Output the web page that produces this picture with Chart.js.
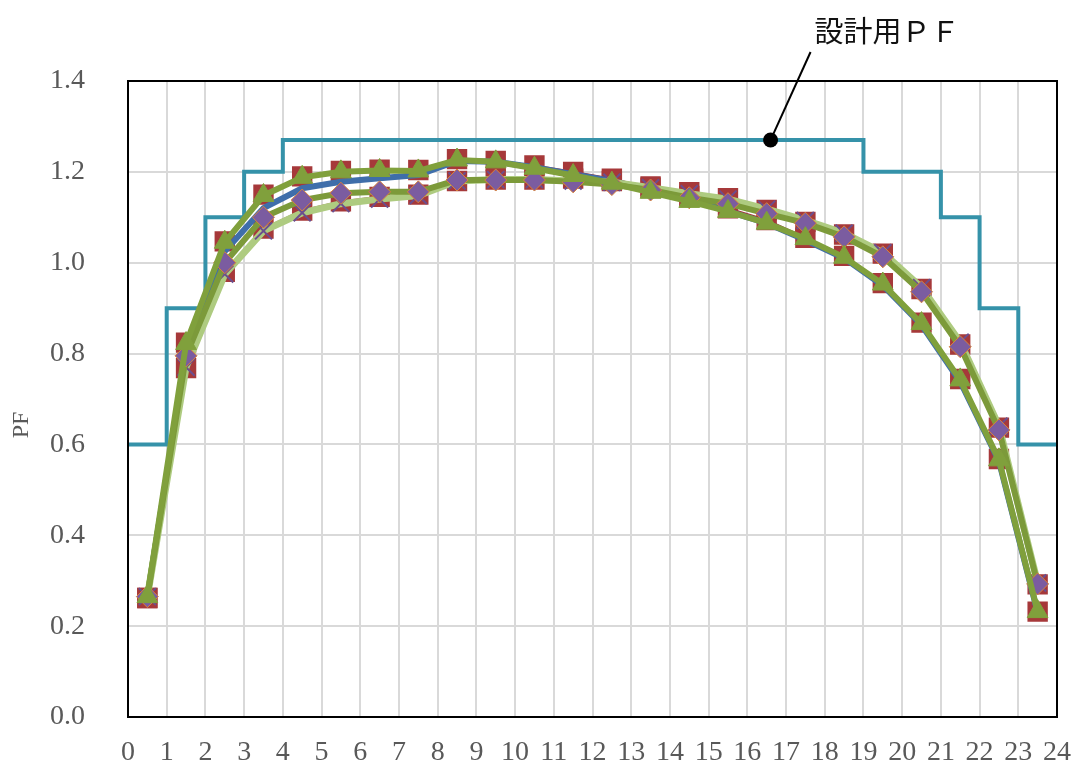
<!DOCTYPE html>
<html><head><meta charset="utf-8">
<script src="https://cdn.jsdelivr.net/npm/chart.js@4/dist/chart.umd.min.js"></script>
<style>html,body{margin:0;padding:0;background:#fff}#wrap{width:1079px;height:767px;position:relative}</style>
</head><body><div id="wrap"><canvas id="c" width="1079" height="767"></canvas></div>
<script>
const hours = [0.5,1.5,2.5,3.5,4.5,5.5,6.5,7.5,8.5,9.5,10.5,11.5,12.5,13.5,14.5,15.5,16.5,17.5,18.5,19.5,20.5,21.5,22.5,23.5];
const xTickLabels = ['0','1','2','3','4','5','6','7','8','9','10','11','12','13','14','15','16','17','18','19','20','21','22','23','24'];
const yTickLabels = ['0.0','0.2','0.4','0.6','0.8','1.0','1.2','1.4'];
const yAxisTitle = 'PF';
const designLabel = '設計用ＰＦ';
const designHours = [0,1,2,3,4,19,21,22,23,24];
const designPF = [0.6,0.9,1.1,1.2,1.27,1.2,1.1,0.9,0.6,0.6];
const designLabelHour = 16.6;

const seriesBlue = [0.265,0.800,1.025,1.120,1.164,1.178,1.186,1.193,1.224,1.222,1.210,1.195,1.180,1.160,1.140,1.113,1.087,1.050,1.010,0.950,0.863,0.738,0.563,0.230];
const seriesRedUpper = [0.262,0.824,1.047,1.150,1.190,1.202,1.205,1.204,1.228,1.224,1.214,1.200,1.185,1.165,1.147,1.120,1.094,1.055,1.015,0.955,0.868,0.744,0.568,0.232];
const seriesGreen = [0.265,0.822,1.045,1.148,1.188,1.200,1.203,1.202,1.226,1.222,1.208,1.192,1.175,1.155,1.135,1.113,1.087,1.053,1.012,0.953,0.866,0.742,0.566,0.232];
const seriesRedLower = [0.262,0.768,0.980,1.075,1.115,1.135,1.145,1.150,1.180,1.183,1.183,1.185,1.180,1.168,1.155,1.142,1.116,1.090,1.062,1.020,0.942,0.820,0.637,0.292];
const seriesLightGreen = [0.265,0.770,0.975,1.070,1.110,1.130,1.140,1.148,1.180,1.183,1.183,1.180,1.177,1.165,1.152,1.140,1.118,1.093,1.065,1.022,0.945,0.825,0.640,0.295];
const seriesPurple = [0.265,0.795,1.000,1.100,1.138,1.153,1.156,1.156,1.182,1.182,1.182,1.178,1.172,1.160,1.143,1.130,1.108,1.087,1.057,1.013,0.936,0.815,0.632,0.293];

const pts = arr => arr.map((v,i)=>({x:hours[i], y:v}));

const datasets = [
  {label:'S3', data:pts(seriesGreen), borderColor:'#80A03C', borderWidth:6, pointStyle:'triangle', pointRadius:12, pointBackgroundColor:'#80A03C', pointBorderColor:'#80A03C', pointBorderWidth:1, order:0},
  {label:'S6', data:pts(seriesPurple), borderColor:'#7C9A3A', borderWidth:6, pointStyle:'rectRot', pointRadius:11, pointBackgroundColor:'#7B5CA0', pointBorderColor:'#D9823A', pointBorderWidth:1, order:1},
  {label:'S5', data:pts(seriesLightGreen), borderColor:'#AECB80', borderWidth:7, pointStyle:'crossRot', pointRadius:12, pointBackgroundColor:'#6B4E8E', pointBorderColor:'#6B4E8E', pointBorderWidth:2, order:2},
  {label:'S1', data:pts(seriesBlue), borderColor:'#3F6EAA', borderWidth:6, pointRadius:0, order:3},
  {label:'S4', data:pts(seriesRedLower), borderColor:'#A6393A', borderWidth:2, pointStyle:'rect', pointRadius:13, pointBackgroundColor:'#A6393A', pointBorderColor:'#A6393A', order:4},
  {label:'S2', data:pts(seriesRedUpper), borderColor:'#A6393A', borderWidth:2, pointStyle:'rect', pointRadius:13, pointBackgroundColor:'#A6393A', pointBorderColor:'#A6393A', order:5},
  {label:designLabel, data:designHours.map((h,i)=>({x:h, y:designPF[i]})), stepped:true, borderColor:'#3592A9', borderWidth:4, pointRadius:0, order:6}
];

const framePlugin = {
  id:'frame',
  afterDraw(chart){
    const {ctx, chartArea:a, scales} = chart;
    ctx.save();
    ctx.strokeStyle = '#000';
    ctx.lineWidth = 2;
    ctx.strokeRect(a.left, a.top, a.right - a.left, a.bottom - a.top);
    const dx = scales.x.getPixelForValue(designLabelHour);
    const dy = scales.y.getPixelForValue(designPF[4]);
    ctx.beginPath();
    ctx.moveTo(dx, dy);
    ctx.lineTo(dx + 40, 52);
    ctx.lineWidth = 2;
    ctx.stroke();
    ctx.beginPath();
    ctx.arc(dx, dy, 7.5, 0, Math.PI*2);
    ctx.fillStyle = '#000';
    ctx.fill();
    ctx.font = '29px "Noto Sans CJK JP"';
    ctx.textBaseline = 'middle';
    ctx.textAlign = 'left';
    ctx.fillStyle = '#111';
    ctx.fillText(designLabel, dx + 44, 31);
    ctx.translate(22, 425);
    ctx.rotate(-Math.PI/2);
    ctx.font = '24px "Liberation Serif"';
    ctx.fillStyle = '#595959';
    ctx.textAlign = 'center';
    ctx.fillText(yAxisTitle, 0, 0);
    ctx.restore();
  }
};

new Chart(document.getElementById('c'), {
  type:'line',
  data:{datasets},
  options:{
    responsive:false, animation:false, devicePixelRatio:1,
    layout:{padding:{top:81, right:22, left:0, bottom:0}},
    plugins:{legend:{display:false}, tooltip:{enabled:false}},
    elements:{line:{tension:0, fill:false}},
    scales:{
      x:{type:'linear', min:0, max:24,
        afterFit(s){ s.height = 50; s.paddingLeft = 0; s.paddingRight = 0; },
        ticks:{stepSize:1, autoSkip:false, maxRotation:0, padding:19, color:'#595959',
          font:{family:'Liberation Serif', size:28},
          callback:(v)=> xTickLabels[Math.round(v)]},
        grid:{color:'#D9D9D9', lineWidth:2, drawTicks:false},
        border:{display:false}},
      y:{type:'linear', min:0, max:1.4,
        afterFit(s){ s.width = 128; s.paddingTop = 0; s.paddingBottom = 0; },
        ticks:{stepSize:0.2, padding:43, color:'#595959',
          font:{family:'Liberation Serif', size:28},
          callback:(v,i)=> yTickLabels[i]},
        grid:{color:'#D9D9D9', lineWidth:2, drawTicks:false},
        border:{display:false}}
    }
  },
  plugins:[framePlugin]
});
</script></body></html>
